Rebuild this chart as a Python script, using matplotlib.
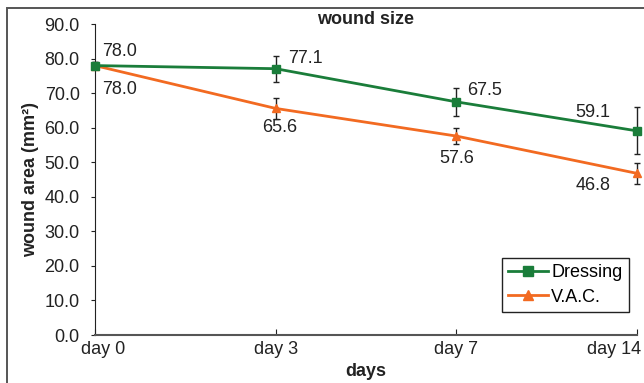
import matplotlib.pyplot as plt
from matplotlib.patches import Rectangle
from matplotlib.lines import Line2D
import matplotlib.transforms as mtransforms

plt.rcParams['font.family'] = ['Liberation Sans', 'DejaVu Sans']

days = ["day 0", "day 3", "day 7", "day 14"]
dressing = [78.0, 77.1, 67.5, 59.1]
dressing_err = [1.0, 3.8, 4.0, 6.8]
vac = [78.0, 65.6, 57.6, 46.8]
vac_err = [1.0, 3.0, 2.3, 3.0]
y_ticks = [0, 10, 20, 30, 40, 50, 60, 70, 80, 90]

green = "#1a7d3a"
orange = "#f26a21"
txt = "#222222"
fs = 13

fig = plt.figure(figsize=(6.44, 3.83), dpi=100)
ax = fig.add_axes([0.1475, 0.1253, 0.8415, 0.8117])

# figure border
fig.patches.append(Rectangle((7 / 644, -0.1), 1.2, 1 - 8 / 383 + 0.1, transform=fig.transFigure,
                             fill=False, edgecolor="#555555", linewidth=1.4))

x = list(range(len(days)))
ax.errorbar(x, dressing, yerr=dressing_err, color=green, marker="s", markersize=6, linewidth=2,
            ecolor=txt, elinewidth=1, capsize=2, zorder=3, clip_on=False)
ax.errorbar(x, vac, yerr=vac_err, color=orange, marker="^", markersize=6, linewidth=2,
            ecolor=txt, elinewidth=1, capsize=2, zorder=2, clip_on=False)

# value labels: offsets in points, with alignment
dressing_pos = [((5, 10), "left"), ((9, 7), "left"), ((8, 8), "left"), ((-19, 13), "right")]
vac_pos = [((5, -17), "left"), ((3, -14), "center"), ((0, -16), "center"), ((-19, -9), "right")]
for vals, pos in [(dressing, dressing_pos), (vac, vac_pos)]:
    for i, v in enumerate(vals):
        off, ha = pos[i]
        ax.annotate(f"{v:.1f}", (i, v), xytext=off, textcoords="offset points",
                    ha=ha, va="center", fontsize=fs, color=txt)

ax.set_xlim(0, 3)
ax.set_ylim(0, 90)
ax.set_xticks(x)
ax.set_xticklabels(days, fontsize=fs)
ax.set_yticks(y_ticks)
ax.set_yticklabels([f"{t:.1f}" for t in y_ticks], fontsize=fs)
ax.tick_params(axis="x", direction="in", length=4, pad=4, colors=txt)
ax.tick_params(axis="y", length=3, pad=8, colors=txt)

xl = ax.get_xticklabels()
xl[0].set_transform(xl[0].get_transform() + mtransforms.ScaledTranslation(8 / 100, 0, fig.dpi_scale_trans))
xl[-1].set_ha("right")
xl[-1].set_transform(xl[-1].get_transform() + mtransforms.ScaledTranslation(4 / 100, 0, fig.dpi_scale_trans))

for s in ["top", "right"]:
    ax.spines[s].set_visible(False)
ax.spines["left"].set_color(txt)
ax.spines["bottom"].set_color("#555555")
ax.spines["bottom"].set_linewidth(1.5)

fig.text(366 / 644, 1 - 19 / 383, "wound size", fontsize=fs, fontweight="bold", color=txt,
         ha="center", va="center")
ax.set_xlabel("days", fontsize=fs, fontweight="bold", labelpad=4, color=txt)
ax.set_ylabel("wound area (mm²)", fontsize=fs, fontweight="bold", labelpad=4, color=txt)

handles = [Line2D([], [], color=green, marker="s", markersize=7, linewidth=2),
           Line2D([], [], color=orange, marker="^", markersize=7, linewidth=2)]
leg = ax.legend(handles, ["Dressing", "V.A.C."], loc="lower right", bbox_to_anchor=(1.002, 0.045),
                fontsize=fs, fancybox=False, edgecolor=txt, framealpha=1, handlelength=2.2,
                handletextpad=0.2, borderpad=0.35, labelspacing=0.4)
leg.get_frame().set_linewidth(1)

fig.savefig("out.png", dpi=100)
